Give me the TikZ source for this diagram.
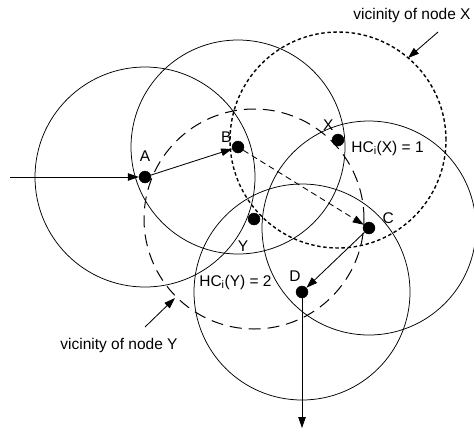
\documentclass[tikz,border=0pt]{standalone}
\usepackage{fontspec}
\setmainfont{Liberation Sans}
\usetikzlibrary{positioning,arrows.meta}
\begin{document}
\begin{tikzpicture}[
  x=1pt, y=-1pt,
  font=\fontsize{15.5}{18}\selectfont,
  dot/.style      ={circle, fill=black, draw=black, minimum size=12pt, inner sep=0pt},
  rangecirc/.style={draw, line width=0.75pt},
  vicX/.style     ={draw, line width=1.4pt, dash pattern=on 3.5pt off 2.6pt},
  vicY/.style     ={draw, line width=1pt, dash pattern=on 12pt off 7pt},
  arr/.style      ={-{Triangle[length=11pt,width=7.5pt]}, line width=0.85pt},
  lbl/.style      ={inner sep=1pt}]

\useasboundingbox (0,0) rectangle (474,432);

\node[dot] (A) at (145,177) {};
\node[dot] (B) at (238,147) {};
\node[dot] (X) at (338,140) {};
\node[dot] (C) at (369,228) {};
\node[dot] (Y) at (254,219) {};
\node[dot] (D) at (302,292) {};

\draw[rangecirc] (A.center) circle[radius=110pt];
\draw[rangecirc] (B.center) circle[radius=107pt];
\draw[rangecirc] (C.center) circle[radius=107pt];
\draw[rangecirc] (D.center) circle[radius=108pt];
\draw[vicX]      (X.center) circle[radius=108pt];
\draw[vicY]      (Y.center) circle[radius=110pt];

\node[lbl, above=8pt of A]                  (labA) {A};
\node[lbl, above left=-1pt and 1pt of B]    (labB) {B};
\node[lbl, above left=4pt and -1pt of X]    (labX) {X};
\node[lbl, above right=-1pt and 8pt of C]   (labC) {C};
\node[lbl, below=14pt of Y, xshift=-11pt]   (labY) {Y};
\node[lbl, above=3pt of D, xshift=-7pt]     (labD) {D};
\node[lbl, right=6pt of X, yshift=-8pt, anchor=west] (hcX) {HC\textsubscript{i}(X) = 1};
\node[lbl, left=23pt of D, yshift=10pt, anchor=east] (hcY) {HC\textsubscript{i}(Y) = 2};

\node[lbl] (vicXtxt) at (412,15)  {vicinity of node X};
\node[lbl] (vicYtxt) at (119,345) {vicinity of node Y};

\coordinate (in)  at (10,177);
\coordinate (out) at (302,428);
\coordinate (vxs) at (438,32);
\coordinate (vxt) at (408,58);
\coordinate (vys) at (145,327);
\coordinate (vyt) at (175,298);

\draw[arr] (in) -- (A);
\draw[arr] (A)  -- (B);
\draw[arr, dash pattern=on 6pt off 4pt] (B) -- (C);
\draw[arr] (C)  -- (D);
\draw[arr] (D)  -- (out);
\draw[arr] (vxs) -- (vxt);
\draw[arr] (vys) -- (vyt);
\end{tikzpicture}
\end{document}
